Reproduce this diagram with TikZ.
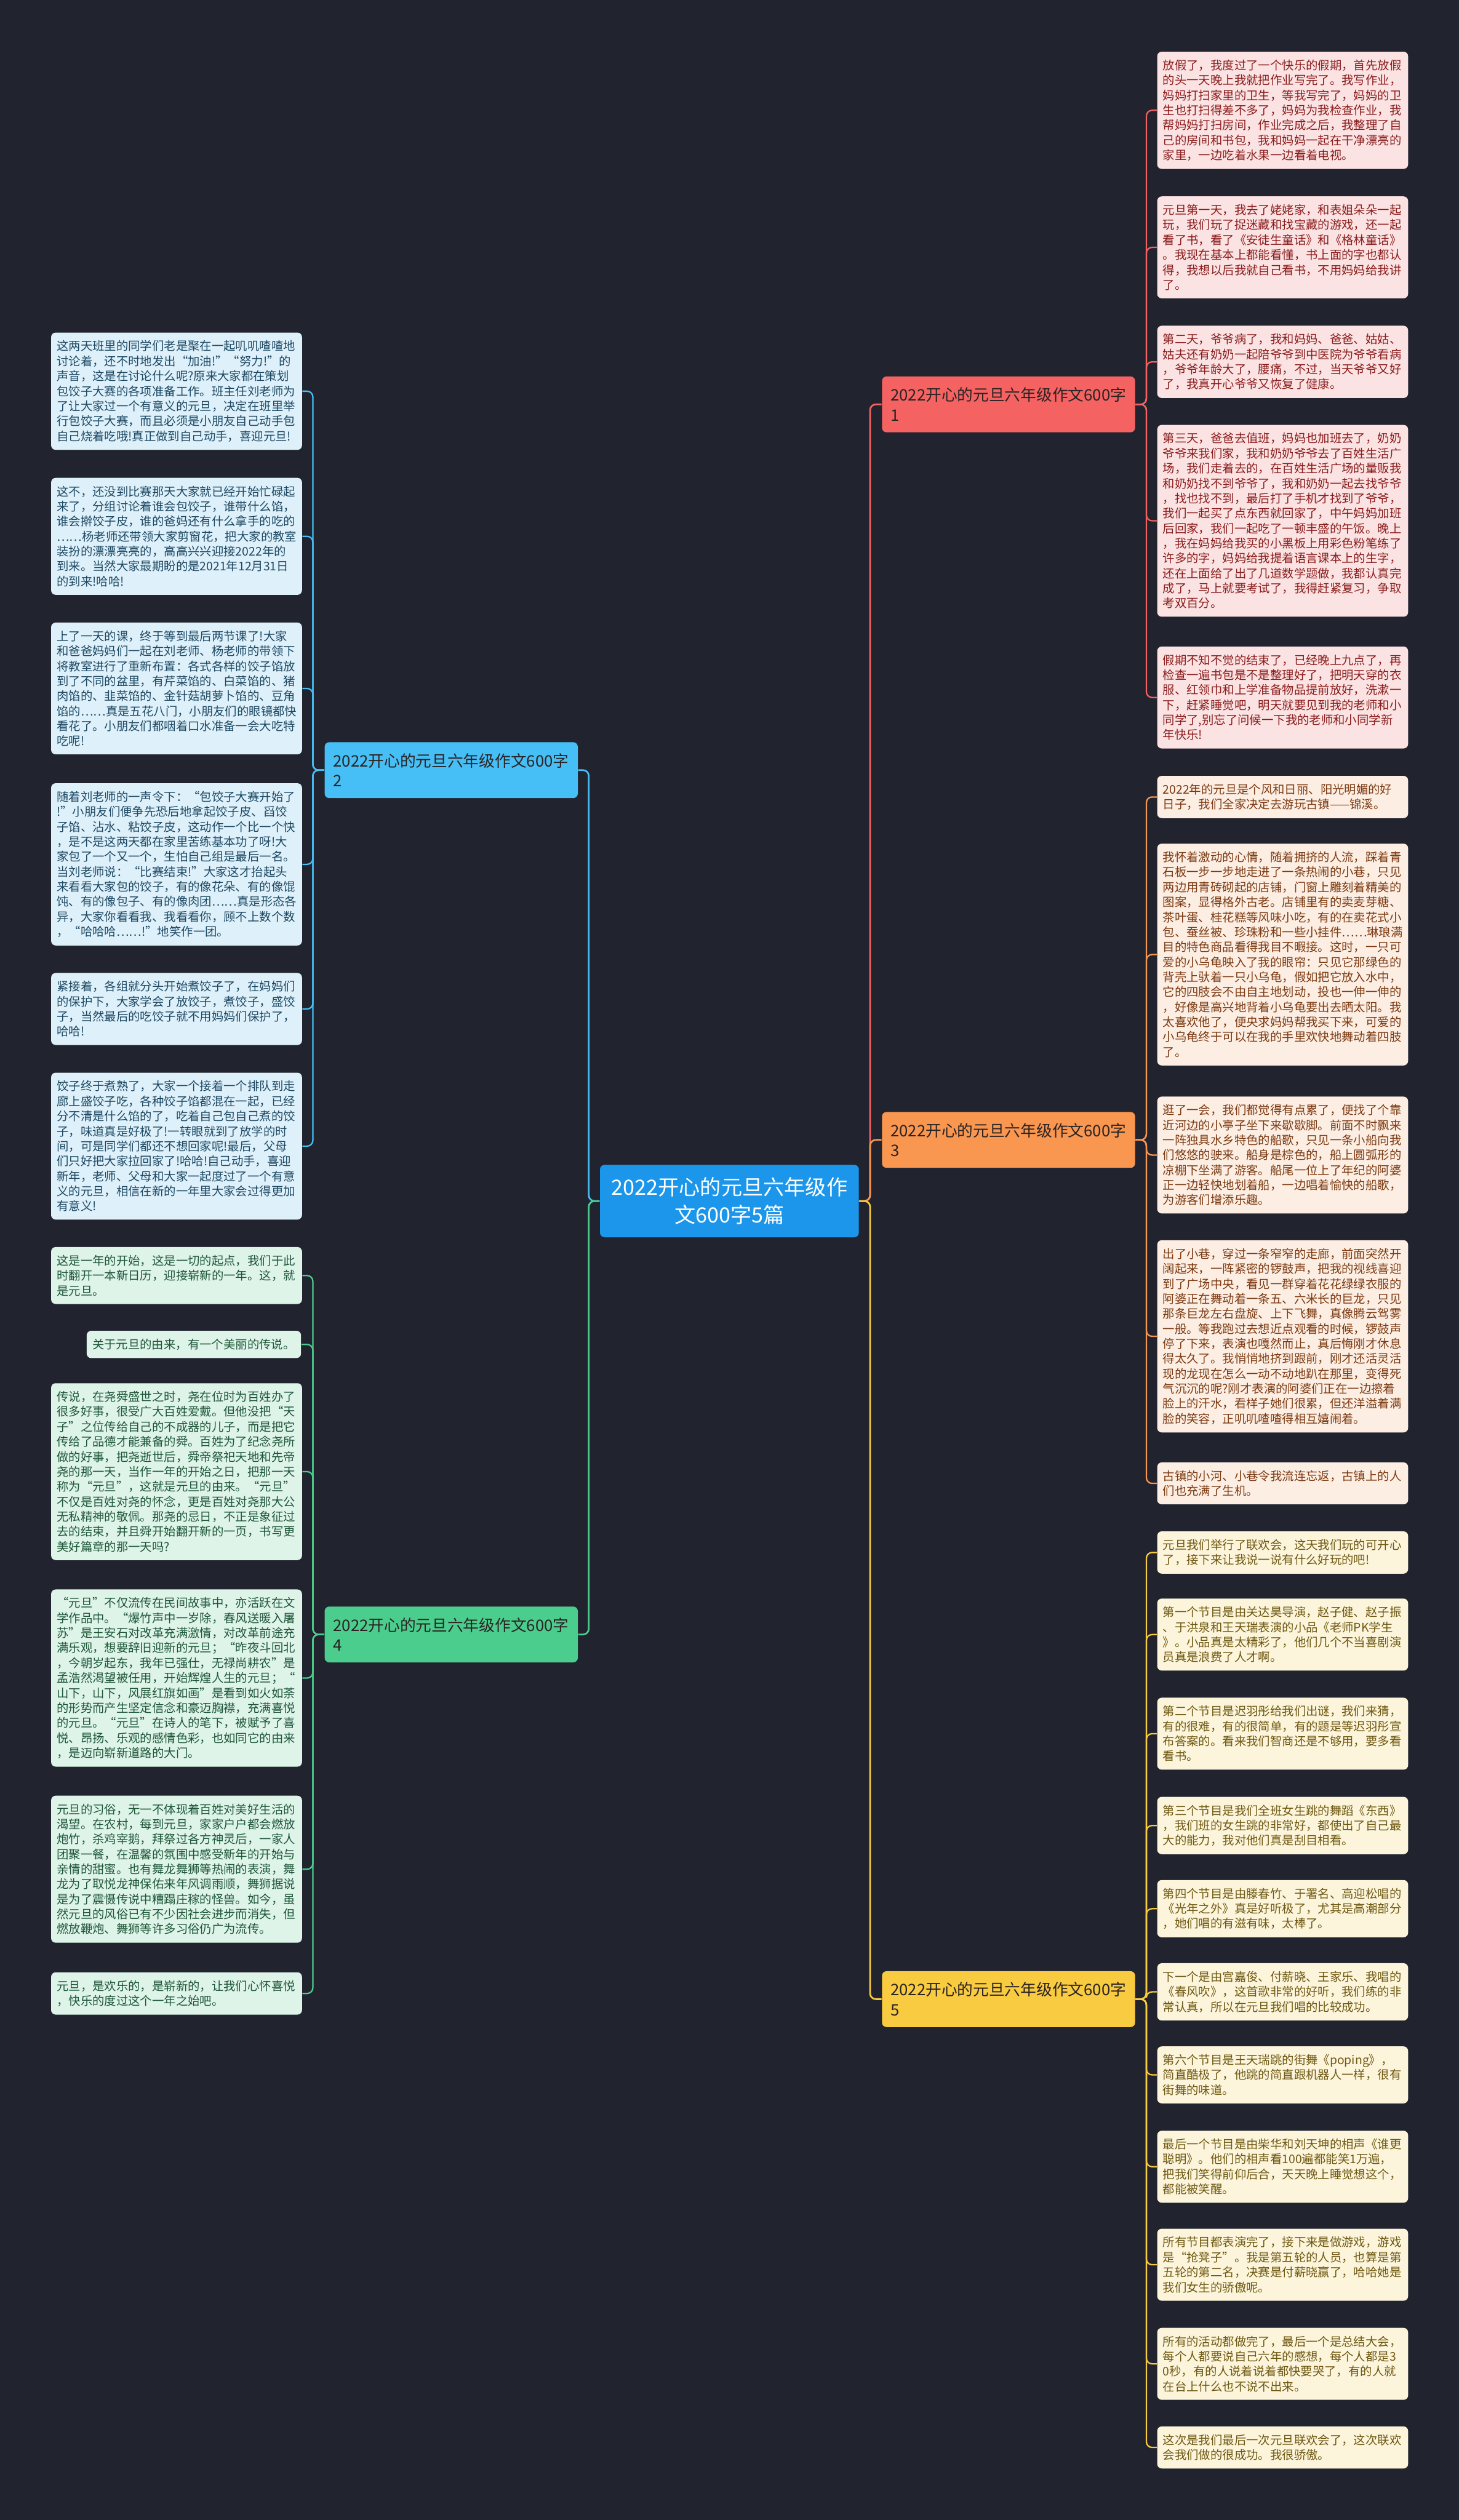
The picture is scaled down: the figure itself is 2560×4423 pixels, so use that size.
\documentclass[tikz,border=0pt]{standalone}
\usepackage{fontspec}
\newfontfamily\cjk{Noto Sans CJK SC}
\definecolor{bgdark}{HTML}{21232F}
\definecolor{rootblue}{HTML}{1C96EA}
\definecolor{brred}{HTML}{F56262}
\definecolor{brblue}{HTML}{45BFF6}
\definecolor{brorange}{HTML}{F9964F}
\definecolor{brgreen}{HTML}{4BCD8D}
\definecolor{bryellow}{HTML}{F8CB40}
\definecolor{brtext}{HTML}{2A2323}
\definecolor{lfred}{HTML}{FCE3E3}
\definecolor{lfblue}{HTML}{DEF1FB}
\definecolor{lforange}{HTML}{FDEEE3}
\definecolor{lfgreen}{HTML}{DEF4E9}
\definecolor{lfyellow}{HTML}{FCF5DB}
\definecolor{txred}{HTML}{8A1D1D}
\definecolor{txblue}{HTML}{1D4862}
\definecolor{txorange}{HTML}{7B3A12}
\definecolor{txgreen}{HTML}{1E5638}
\definecolor{txyellow}{HTML}{6E5812}

\begin{document}
\begin{tikzpicture}[x=0.01cm, y=-0.01cm,
  every node/.style={font=\cjk},
  rootbox/.style={fill=rootblue, text=white, rounded corners=0.08cm, minimum width=4.54cm, minimum height=1.27cm, align=center, font=\cjk\fontsize{10.5}{13.7}\selectfont},
  branch/.style={anchor=north west, rounded corners=0.08cm, text=brtext, minimum width=4.44cm, minimum height=0.98cm, inner xsep=0.15cm, text width=4.14cm, align=left, font=\cjk\fontsize{7.9}{10}\selectfont},
  leaf/.style={anchor=north west, rounded corners=0.08cm, inner xsep=0.1cm, inner ysep=0.14cm, text width=4.2cm, align=left, font=\cjk\fontsize{5.95}{7.48}\selectfont},
  redleaf/.style={leaf, fill=lfred, text=txred},
  blueleaf/.style={leaf, fill=lfblue, text=txblue},
  orangeleaf/.style={leaf, fill=lforange, text=txorange},
  greenleaf/.style={leaf, fill=lfgreen, text=txgreen},
  yellowleaf/.style={leaf, fill=lfyellow, text=txyellow},
  trunk/.style={line width=0.85pt, rounded corners=0.1cm},
  twig/.style={line width=0.7pt, rounded corners=0.1cm}]
  \fill[bgdark] (0,0) rectangle (2560,4423);

  % centre and branches
  \node[rootbox] (root) at (1280,2108) {2022开心的元旦六年级作\\文600字5篇};
  \node[branch, fill=brred] (b1) at (1547,660) {2022开心的元旦六年级作文600字\\1};
  \node[branch, fill=brblue] (b2) at (569,1302) {2022开心的元旦六年级作文600字\\2};
  \node[branch, fill=brorange] (b3) at (1547,1951) {2022开心的元旦六年级作文600字\\3};
  \node[branch, fill=brgreen] (b4) at (569,2819) {2022开心的元旦六年级作文600字\\4};
  \node[branch, fill=bryellow] (b5) at (1547,3459) {2022开心的元旦六年级作文600字\\5};

  % branch 1
  \node[redleaf] (r1) at (2030,90) {放假了，我度过了一个快乐的假期，首先放假\\
的头一天晚上我就把作业写完了。我写作业，\\
妈妈打扫家里的卫生，等我写完了，妈妈的卫\\
生也打扫得差不多了，妈妈为我检查作业，我\\
帮妈妈打扫房间，作业完成之后，我整理了自\\
己的房间和书包，我和妈妈一起在干净漂亮的\\
家里，一边吃着水果一边看着电视。};
  \node[redleaf] (r2) at (2030,344) {元旦第一天，我去了姥姥家，和表姐朵朵一起\\
玩，我们玩了捉迷藏和找宝藏的游戏，还一起\\
看了书，看了《安徒生童话》和《格林童话》\\
。我现在基本上都能看懂，书上面的字也都认\\
得，我想以后我就自己看书，不用妈妈给我讲\\
了。};
  \node[redleaf] (r3) at (2030,571) {第二天，爷爷病了，我和妈妈、爸爸、姑姑、\\
姑夫还有奶奶一起陪爷爷到中医院为爷爷看病\\
，爷爷年龄大了，腰痛，不过，当天爷爷又好\\
了，我真开心爷爷又恢复了健康。};
  \node[redleaf] (r4) at (2030,745) {第三天，爸爸去值班，妈妈也加班去了，奶奶\\
爷爷来我们家，我和奶奶爷爷去了百姓生活广\\
场，我们走着去的，在百姓生活广场的量贩我\\
和奶奶找不到爷爷了，我和奶奶一起去找爷爷\\
，找也找不到，最后打了手机才找到了爷爷，\\
我们一起买了点东西就回家了，中午妈妈加班\\
后回家，我们一起吃了一顿丰盛的午饭。晚上\\
，我在妈妈给我买的小黑板上用彩色粉笔练了\\
许多的字，妈妈给我提着语言课本上的生字，\\
还在上面给了出了几道数学题做，我都认真完\\
成了，马上就要考试了，我得赶紧复习，争取\\
考双百分。};
  \node[redleaf] (r5) at (2030,1134) {假期不知不觉的结束了，已经晚上九点了，再\\
检查一遍书包是不是整理好了，把明天穿的衣\\
服、红领巾和上学准备物品提前放好，洗漱一\\
下，赶紧睡觉吧，明天就要见到我的老师和小\\
同学了,别忘了问候一下我的老师和小同学新\\
年快乐!};

  % branch 2
  \node[blueleaf] (l1) at (89,583) {这两天班里的同学们老是聚在一起叽叽喳喳地\\
讨论着，还不时地发出“加油!”“努力!”的\\
声音，这是在讨论什么呢?原来大家都在策划\\
包饺子大赛的各项准备工作。班主任刘老师为\\
了让大家过一个有意义的元旦，决定在班里举\\
行包饺子大赛，而且必须是小朋友自己动手包\\
自己烧着吃哦!真正做到自己动手，喜迎元旦!};
  \node[blueleaf] (l2) at (89,838) {这不，还没到比赛那天大家就已经开始忙碌起\\
来了，分组讨论着谁会包饺子，谁带什么馅，\\
谁会擀饺子皮，谁的爸妈还有什么拿手的吃的\\
……杨老师还带领大家剪窗花，把大家的教室\\
装扮的漂漂亮亮的，高高兴兴迎接2022年的\\
到来。当然大家最期盼的是2021年12月31日\\
的到来!哈哈!};
  \node[blueleaf] (l3) at (89,1092) {上了一天的课，终于等到最后两节课了!大家\\
和爸爸妈妈们一起在刘老师、杨老师的带领下\\
将教室进行了重新布置：各式各样的饺子馅放\\
到了不同的盆里，有芹菜馅的、白菜馅的、猪\\
肉馅的、韭菜馅的、金针菇胡萝卜馅的、豆角\\
馅的……真是五花八门，小朋友们的眼镜都快\\
看花了。小朋友们都咽着口水准备一会大吃特\\
吃呢!};
  \node[blueleaf] (l4) at (89,1374) {随着刘老师的一声令下：“包饺子大赛开始了\\
!”小朋友们便争先恐后地拿起饺子皮、舀饺\\
子馅、沾水、粘饺子皮，这动作一个比一个快\\
，是不是这两天都在家里苦练基本功了呀!大\\
家包了一个又一个，生怕自己组是最后一名。\\
当刘老师说：“比赛结束!”大家这才抬起头\\
来看看大家包的饺子，有的像花朵、有的像馄\\
饨、有的像包子、有的像肉团……真是形态各\\
异，大家你看看我、我看看你，顾不上数个数\\
，“哈哈哈……!”地笑作一团。};
  \node[blueleaf] (l5) at (89,1707) {紧接着，各组就分头开始煮饺子了，在妈妈们\\
的保护下，大家学会了放饺子，煮饺子，盛饺\\
子，当然最后的吃饺子就不用妈妈们保护了，\\
哈哈!};
  \node[blueleaf] (l6) at (89,1882) {饺子终于煮熟了，大家一个接着一个排队到走\\
廊上盛饺子吃，各种饺子馅都混在一起，已经\\
分不清是什么馅的了，吃着自己包自己煮的饺\\
子，味道真是好极了!一转眼就到了放学的时\\
间，可是同学们都还不想回家呢!最后，父母\\
们只好把大家拉回家了!哈哈!自己动手，喜迎\\
新年，老师、父母和大家一起度过了一个有意\\
义的元旦，相信在新的一年里大家会过得更加\\
有意义!};

  % branch 3
  \node[orangeleaf] (r6) at (2030,1361) {2022年的元旦是个风和日丽、阳光明媚的好\\
日子，我们全家决定去游玩古镇——锦溪。};
  \node[orangeleaf] (r7) at (2030,1480) {我怀着激动的心情，随着拥挤的人流，踩着青\\
石板一步一步地走进了一条热闹的小巷，只见\\
两边用青砖砌起的店铺，门窗上雕刻着精美的\\
图案，显得格外古老。店铺里有的卖麦芽糖、\\
茶叶蛋、桂花糕等风味小吃，有的在卖花式小\\
包、蚕丝被、珍珠粉和一些小挂件……琳琅满\\
目的特色商品看得我目不暇接。这时，一只可\\
爱的小乌龟映入了我的眼帘：只见它那绿色的\\
背壳上驮着一只小乌龟，假如把它放入水中，\\
它的四肢会不由自主地划动，投也一伸一伸的\\
，好像是高兴地背着小乌龟要出去晒太阳。我\\
太喜欢他了，便央求妈妈帮我买下来，可爱的\\
小乌龟终于可以在我的手里欢快地舞动着四肢\\
了。};
  \node[orangeleaf] (r8) at (2030,1924) {逛了一会，我们都觉得有点累了，便找了个靠\\
近河边的小亭子坐下来歇歇脚。前面不时飘来\\
一阵独具水乡特色的船歌，只见一条小船向我\\
们悠悠的驶来。船身是棕色的，船上圆弧形的\\
凉棚下坐满了游客。船尾一位上了年纪的阿婆\\
正一边轻快地划着船，一边唱着愉快的船歌，\\
为游客们增添乐趣。};
  \node[orangeleaf] (r9) at (2030,2176) {出了小巷，穿过一条窄窄的走廊，前面突然开\\
阔起来，一阵紧密的锣鼓声，把我的视线喜迎\\
到了广场中央，看见一群穿着花花绿绿衣服的\\
阿婆正在舞动着一条五、六米长的巨龙，只见\\
那条巨龙左右盘旋、上下飞舞，真像腾云驾雾\\
一般。等我跑过去想近点观看的时候，锣鼓声\\
停了下来，表演也嘎然而止，真后悔刚才休息\\
得太久了。我悄悄地挤到跟前，刚才还活灵活\\
现的龙现在怎么一动不动地趴在那里，变得死\\
气沉沉的呢?刚才表演的阿婆们正在一边擦着\\
脸上的汗水，看样子她们很累，但还洋溢着满\\
脸的笑容，正叽叽喳喳得相互嬉闹着。};
  \node[orangeleaf] (r10) at (2030,2566) {古镇的小河、小巷令我流连忘返，古镇上的人\\
们也充满了生机。};

  % branch 4
  \node[greenleaf] (l7) at (89,2188) {这是一年的开始，这是一切的起点，我们于此\\
时翻开一本新日历，迎接崭新的一年。这，就\\
是元旦。};
  \node[greenleaf, anchor=north east, text width=3.56cm] (l8) at (529,2335) {关于元旦的由来，有一个美丽的传说。};
  \node[greenleaf] (l9) at (89,2427) {传说，在尧舜盛世之时，尧在位时为百姓办了\\
很多好事，很受广大百姓爱戴。但他没把“天\\
子”之位传给自己的不成器的儿子，而是把它\\
传给了品德才能兼备的舜。百姓为了纪念尧所\\
做的好事，把尧逝世后，舜帝祭祀天地和先帝\\
尧的那一天，当作一年的开始之日，把那一天\\
称为“元旦”，这就是元旦的由来。“元旦”\\
不仅是百姓对尧的怀念，更是百姓对尧那大公\\
无私精神的敬佩。那尧的忌日，不正是象征过\\
去的结束，并且舜开始翻开新的一页，书写更\\
美好篇章的那一天吗?};
  \node[greenleaf] (l10) at (89,2789) {“元旦”不仅流传在民间故事中，亦活跃在文\\
学作品中。“爆竹声中一岁除，春风送暖入屠\\
苏”是王安石对改革充满激情，对改革前途充\\
满乐观，想要辞旧迎新的元旦；“昨夜斗回北\\
，今朝岁起东，我年已强仕，无禄尚耕农”是\\
孟浩然渴望被任用，开始辉煌人生的元旦；“\\
山下，山下，风展红旗如画”是看到如火如荼\\
的形势而产生坚定信念和豪迈胸襟，充满喜悦\\
的元旦。“元旦”在诗人的笔下，被赋予了喜\\
悦、昂扬、乐观的感情色彩，也如同它的由来\\
，是迈向崭新道路的大门。};
  \node[greenleaf] (l11) at (89,3151) {元旦的习俗，无一不体现着百姓对美好生活的\\
渴望。在农村，每到元旦，家家户户都会燃放\\
炮竹，杀鸡宰鹅，拜祭过各方神灵后，一家人\\
团聚一餐，在温馨的氛围中感受新年的开始与\\
亲情的甜蜜。也有舞龙舞狮等热闹的表演，舞\\
龙为了取悦龙神保佑来年风调雨顺，舞狮据说\\
是为了震慑传说中糟蹋庄稼的怪兽。如今，虽\\
然元旦的风俗已有不少因社会进步而消失，但\\
燃放鞭炮、舞狮等许多习俗仍广为流传。};
  \node[greenleaf] (l12) at (89,3461) {元旦，是欢乐的，是崭新的，让我们心怀喜悦\\
，快乐的度过这个一年之始吧。};

  % branch 5
  \node[yellowleaf] (r11) at (2030,2687) {元旦我们举行了联欢会，这天我们玩的可开心\\
了，接下来让我说一说有什么好玩的吧!};
  \node[yellowleaf] (r12) at (2030,2805) {第一个节目是由关达昊导演，赵子健、赵子振\\
、于洪泉和王天瑞表演的小品《老师PK学生\\
》。小品真是太精彩了，他们几个不当喜剧演\\
员真是浪费了人才啊。};
  \node[yellowleaf] (r13) at (2030,2979) {第二个节目是迟羽彤给我们出谜，我们来猜，\\
有的很难，有的很简单，有的题是等迟羽彤宣\\
布答案的。看来我们智商还是不够用，要多看\\
看书。};
  \node[yellowleaf] (r14) at (2030,3153) {第三个节目是我们全班女生跳的舞蹈《东西》\\
，我们班的女生跳的非常好，都使出了自己最\\
大的能力，我对他们真是刮目相看。};
  \node[yellowleaf] (r15) at (2030,3299) {第四个节目是由滕春竹、于署名、高迎松唱的\\
《光年之外》真是好听极了，尤其是高潮部分\\
，她们唱的有滋有味，太棒了。};
  \node[yellowleaf] (r16) at (2030,3445) {下一个是由宫嘉俊、付薪晓、王家乐、我唱的\\
《春风吹》，这首歌非常的好听，我们练的非\\
常认真，所以在元旦我们唱的比较成功。};
  \node[yellowleaf] (r17) at (2030,3591) {第六个节目是王天瑞跳的街舞《poping》，\\
简直酷极了，他跳的简直跟机器人一样，很有\\
街舞的味道。};
  \node[yellowleaf] (r18) at (2030,3739) {最后一个节目是由柴华和刘天坤的相声《谁更\\
聪明》。他们的相声看100遍都能笑1万遍，\\
把我们笑得前仰后合，天天晚上睡觉想这个，\\
都能被笑醒。};
  \node[yellowleaf] (r19) at (2030,3911) {所有节目都表演完了，接下来是做游戏，游戏\\
是“抢凳子”。我是第五轮的人员，也算是第\\
五轮的第二名，决赛是付薪晓赢了，哈哈她是\\
我们女生的骄傲呢。};
  \node[yellowleaf] (r20) at (2030,4085) {所有的活动都做完了，最后一个是总结大会，\\
每个人都要说自己六年的感想，每个人都是3\\
0秒，有的人说着说着都快要哭了，有的人就\\
在台上什么也不说不出来。};
  \node[yellowleaf] (r21) at (2030,4258) {这次是我们最后一次元旦联欢会了，这次联欢\\
会我们做的很成功。我很骄傲。};

  % connectors
  \draw[trunk, brred] (root.east) -- ++(19,0) |- (b1.west);
  \draw[trunk, brorange] (root.east) -- ++(19,0) |- (b3.west);
  \draw[trunk, bryellow] (root.east) -- ++(19,0) |- (b5.west);
  \draw[trunk, brblue] (root.west) -- ++(-19,0) |- (b2.east);
  \draw[trunk, brgreen] (root.west) -- ++(-19,0) |- (b4.east);
  \foreach \n in {r1,r2,r3,r4,r5} \draw[twig, brred] (b1.east) -- ++(19,0) |- (\n.west);
  \foreach \n in {r6,r7,r8,r9,r10} \draw[twig, brorange] (b3.east) -- ++(19,0) |- (\n.west);
  \foreach \n in {r11,r12,r13,r14,r15,r16,r17,r18,r19,r20,r21} \draw[twig, bryellow] (b5.east) -- ++(19,0) |- (\n.west);
  \foreach \n in {l1,l2,l3,l4,l5,l6} \draw[twig, brblue] (b2.west) -- ++(-20,0) |- (\n.east);
  \foreach \n in {l7,l8,l9,l10,l11,l12} \draw[twig, brgreen] (b4.west) -- ++(-20,0) |- (\n.east);
\end{tikzpicture}
\end{document}
